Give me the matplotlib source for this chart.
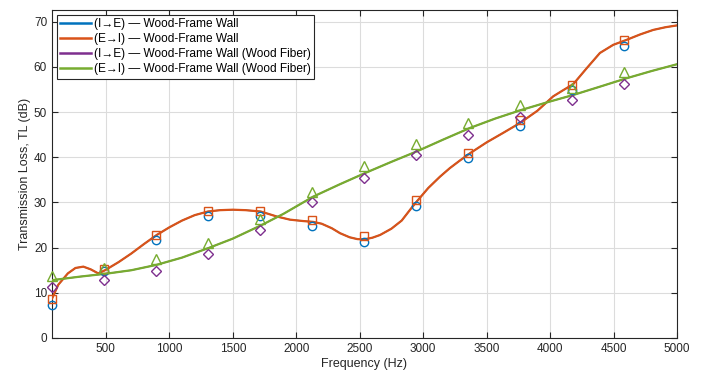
import numpy as np
import matplotlib.pyplot as plt

plt.rcParams['font.family'] = ['Liberation Sans', 'DejaVu Sans']

# measured points
freq = [75, 485, 895, 1305, 1715, 2125, 2535, 2945, 3355, 3765, 4175, 4585]
tl_ie_wall = [7.3, 14.9, 21.7, 27.0, 27.0, 24.8, 21.3, 29.3, 39.9, 47.0, 54.9, 64.7]
tl_ei_wall = [8.6, 15.3, 22.8, 28.1, 28.1, 26.1, 22.6, 30.6, 40.9, 48.2, 56.0, 65.9]
tl_ie_fiber = [11.2, 12.8, 14.9, 18.5, 23.8, 30.1, 35.5, 40.5, 45.0, 49.0, 52.7, 56.3]
tl_ei_fiber = [13.7, 15.4, 17.4, 21.1, 26.3, 32.4, 38.1, 43.0, 47.6, 51.6, 55.3, 58.8]

# fitted curves
fit_f_wall = [75, 125, 200, 260, 322, 380, 440, 493, 600, 700, 800, 900, 1000, 1100,
              1200, 1304, 1400, 1500, 1600, 1720, 1846, 1950, 2050, 2134, 2200, 2280,
              2345, 2420, 2480, 2528, 2600, 2660, 2750, 2831, 2900, 2949, 3040, 3132,
              3210, 3290, 3369, 3500, 3630, 3763, 3900, 4025, 4100, 4183, 4288, 4393,
              4498, 4603, 4710, 4813, 4910, 5000]
fit_wall = [8.7, 11.8, 14.3, 15.5, 15.8, 15.2, 14.3, 15.0, 16.8, 18.7, 20.8, 22.8, 24.5, 26.0,
            27.2, 28.0, 28.3, 28.4, 28.3, 28.0, 26.9, 26.2, 25.9, 25.7, 25.3, 24.3,
            23.2, 22.3, 21.9, 21.8, 22.2, 22.8, 24.2, 26.0, 28.5, 30.2, 33.2, 35.7,
            37.6, 39.3, 40.9, 43.3, 45.4, 47.6, 50.3, 53.5, 54.8, 56.2, 59.7, 63.1,
            64.9, 66.0, 67.2, 68.2, 68.8, 69.2]
fit_f_fiber = [75, 300, 493, 700, 900, 1100, 1307, 1500, 1727, 1900, 2134, 2341, 2541,
               2750, 2949, 3156, 3369, 3570, 3776, 3980, 4183, 4400, 4603, 4800, 5000]
fit_fiber = [12.8, 13.6, 14.2, 15.0, 16.2, 17.8, 19.9, 22.0, 25.0, 27.5, 31.3, 34.0, 36.5,
             39.0, 41.3, 43.9, 46.5, 48.6, 50.5, 52.2, 53.8, 55.7, 57.5, 59.1, 60.6]

blue = '#0072BD'
orange = '#D95319'
purple = '#7E2F8E'
green = '#77AC30'

fig = plt.figure(figsize=(7.15, 3.72), dpi=100)
ax = fig.add_axes([0.0727, 0.0914, 0.8741, 0.8816])

# I->E fits sit underneath the E->I fits
ax.plot(fit_f_wall, fit_wall, color=blue, lw=1.0, label='(I→E) — Wood-Frame Wall', zorder=2)
ax.plot(fit_f_wall, fit_wall, color=orange, lw=1.6, label='(E→I) — Wood-Frame Wall', zorder=3)
ax.plot(fit_f_fiber, fit_fiber, color=purple, lw=1.0, label='(I→E) — Wood-Frame Wall (Wood Fiber)', zorder=2)
ax.plot(fit_f_fiber, fit_fiber, color=green, lw=1.6, label='(E→I) — Wood-Frame Wall (Wood Fiber)', zorder=3)

mk = dict(ls='none', mfc='none', mew=1.0, clip_on=False, zorder=4)
ax.plot(freq, tl_ie_wall, marker='o', ms=6, mec=blue, **mk)
ax.plot(freq, tl_ei_wall, marker='s', ms=5.5, mec=orange, **mk)
ax.plot(freq, tl_ie_fiber, marker='D', ms=5, mec=purple, **mk)
ax.plot(freq, tl_ei_fiber, marker='^', ms=6.5, mec=green, **mk)

ax.set_xlim(75, 5000)
ax.set_ylim(0, 72.6)
ax.set_xticks(np.arange(500, 5001, 500))
ax.set_yticks(np.arange(0, 71, 10))
ax.grid(True, color='#dcdcdc', lw=0.8)
ax.set_axisbelow(True)
ax.tick_params(direction='in', top=True, right=True, labelsize=8.5, colors='#262626',
               length=4, width=0.8)
for s in ax.spines.values():
    s.set_color('#262626')
    s.set_linewidth(0.8)

ax.set_xlabel('Frequency (Hz)', fontsize=9, color='#262626', labelpad=2)
ax.set_ylabel('Transmission Loss, TL (dB)', fontsize=9, color='#262626', labelpad=2)

leg = ax.legend(loc='upper left', fontsize=8.6, frameon=True, fancybox=False,
                edgecolor='#262626', framealpha=1, handlelength=2.6, handletextpad=0.2,
                labelspacing=0.25, borderpad=0.3, borderaxespad=0.4)
leg.get_frame().set_linewidth(0.8)
for h in leg.get_lines():
    h.set_linewidth(1.8)

fig.savefig('out.png', dpi=100)
